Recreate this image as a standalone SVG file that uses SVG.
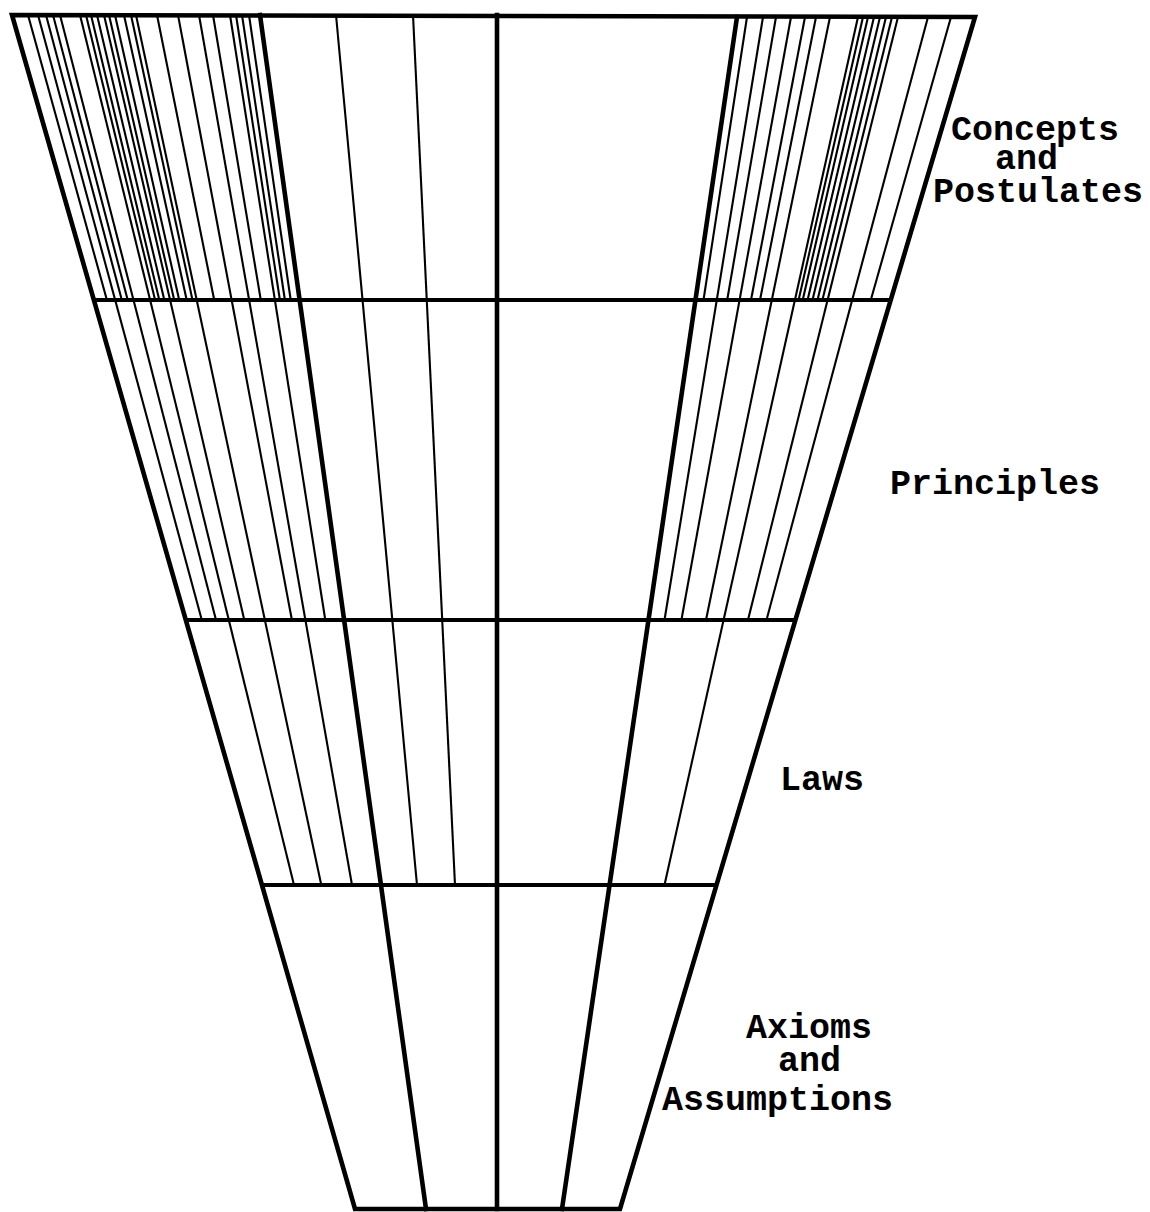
<svg xmlns="http://www.w3.org/2000/svg" width="1150" height="1212" viewBox="0 0 1150 1212">
<style>
.thin{stroke:#000;stroke-width:2.1;fill:none;stroke-linecap:butt}
.thick{stroke:#000;stroke-width:4.6;fill:none;stroke-linecap:square}
.band{stroke:#000;stroke-width:4;fill:none}
.lbl{font-family:"Liberation Mono","Courier New",monospace;font-weight:bold;font-size:35px;fill:#000}
</style>
<rect width="1150" height="1212" fill="#fff"/>
<g id="connectors">
<!-- top band, left thin lines ending at y=300 -->
<line class="thin" x1="28" y1="15" x2="106.9" y2="300"/>
<line class="thin" x1="46" y1="15" x2="121.8" y2="300"/>
<line class="thin" x1="53" y1="15" x2="127.7" y2="300"/>
<line class="thin" x1="86" y1="15" x2="155.1" y2="300"/>
<line class="thin" x1="91" y1="15" x2="159.3" y2="300"/>
<line class="thin" x1="97" y1="15" x2="164.3" y2="300"/>
<line class="thin" x1="109" y1="15" x2="174.2" y2="300"/>
<line class="thin" x1="115" y1="15" x2="179.2" y2="300"/>
<line class="thin" x1="124" y1="15" x2="186.7" y2="300"/>
<line class="thin" x1="131" y1="15" x2="192.5" y2="300"/>
<line class="thin" x1="157" y1="15" x2="214.2" y2="300"/>
<line class="thin" x1="213" y1="15" x2="260.8" y2="300"/>
<line class="thin" x1="236" y1="15" x2="279.9" y2="300"/>
<line class="thin" x1="242" y1="15" x2="284.9" y2="300"/>
<line class="thin" x1="249" y1="15" x2="290.7" y2="300"/>
<!-- left lines ending at y=620 -->
<line class="thin" x1="38" y1="15" x2="201.8" y2="620"/>
<line class="thin" x1="60" y1="15" x2="216" y2="620"/>
<line class="thin" x1="104" y1="15" x2="244.3" y2="620"/>
<line class="thin" x1="178" y1="15" x2="291.9" y2="620"/>
<line class="thin" x1="230" y1="15" x2="325.3" y2="620"/>
<!-- left lines ending at y=885 -->
<line class="thin" x1="80" y1="15" x2="294" y2="885"/>
<line class="thin" x1="136" y1="15" x2="321.3" y2="885"/>
<line class="thin" x1="199" y1="15" x2="352" y2="885"/>
<line class="thin" x1="336" y1="15" x2="417" y2="885"/>
<line class="thin" x1="413" y1="15" x2="455" y2="885"/>
<!-- right thin lines ending at y=300 -->
<line class="thin" x1="747" y1="17" x2="703.5" y2="300"/>
<line class="thin" x1="776" y1="17" x2="727.2" y2="300"/>
<line class="thin" x1="805" y1="17" x2="751" y2="300"/>
<line class="thin" x1="816" y1="17" x2="760" y2="300"/>
<line class="thin" x1="863" y1="17" x2="798.6" y2="300"/>
<line class="thin" x1="868" y1="17" x2="802.7" y2="300"/>
<line class="thin" x1="874" y1="17" x2="807.6" y2="300"/>
<line class="thin" x1="880" y1="17" x2="812.5" y2="300"/>
<line class="thin" x1="886" y1="17" x2="817.5" y2="300"/>
<line class="thin" x1="892" y1="17" x2="822.4" y2="300"/>
<line class="thin" x1="951" y1="17" x2="870.8" y2="300"/>
<!-- right lines ending at y=620 -->
<line class="thin" x1="763" y1="17" x2="664.5" y2="620"/>
<line class="thin" x1="791" y1="17" x2="681.4" y2="620"/>
<line class="thin" x1="830" y1="17" x2="706" y2="620"/>
<line class="thin" x1="898" y1="17" x2="748" y2="620"/>
<line class="thin" x1="928" y1="17" x2="766.5" y2="620"/>
<!-- right line ending at y=885 -->
<line class="thin" x1="858" y1="17" x2="664.5" y2="885"/>
<!-- thick full-height lines -->
<line class="thick" x1="260" y1="15" x2="426" y2="1209"/>
<line class="thick" x1="497" y1="15" x2="497" y2="1209"/>
<line class="thick" x1="737" y1="17" x2="562" y2="1209"/>
<!-- band boundaries -->
<line class="band" x1="94" y1="300" x2="891" y2="300"/>
<line class="band" x1="186" y1="620" x2="796" y2="620"/>
<line class="band" x1="262" y1="885" x2="717" y2="885"/>
</g>
<g id="funnel">
<polygon points="12,15 975,17 620,1209 355,1209" fill="none" stroke="#000" stroke-width="4.6" stroke-linejoin="miter"/>
</g>
<g id="label-concepts">
<text class="lbl" x="951" y="140">Concepts</text>
<text class="lbl" x="995" y="169">and</text>
<text class="lbl" x="933" y="202">Postulates</text>
</g>
<g id="label-principles">
<text class="lbl" x="890" y="494">Principles</text>
</g>
<g id="label-laws">
<text class="lbl" x="780" y="790">Laws</text>
</g>
<g id="label-axioms">
<text class="lbl" x="746" y="1038">Axioms</text>
<text class="lbl" x="778" y="1071">and</text>
<text class="lbl" x="662" y="1110">Assumptions</text>
</g>
</svg>
